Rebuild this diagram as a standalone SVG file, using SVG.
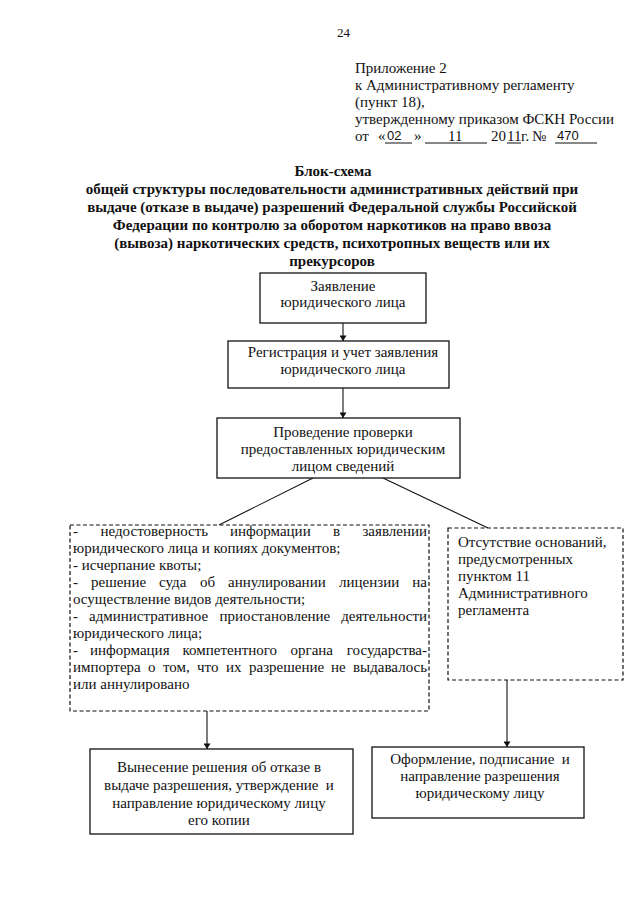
<svg xmlns="http://www.w3.org/2000/svg" width="640" height="905" viewBox="0 0 640 905">
<defs>
<marker id="ah" viewBox="0 0 8 10" refX="8" refY="5" markerWidth="6" markerHeight="7" markerUnits="userSpaceOnUse" orient="auto">
<path d="M0,0 L8,5 L0,10 Z" fill="#111"/>
</marker>
<style>
text{font-family:"Liberation Serif","Times New Roman",serif;font-size:15px;fill:#111}
.b{font-weight:bold}
.c{text-anchor:middle}
.e{text-anchor:end}
.s{font-family:"Liberation Sans",Arial,sans-serif;font-size:13px}
.box{fill:#fff;stroke:#111;stroke-width:1.3}
.dash{fill:#fff;stroke:#111;stroke-width:1.2;stroke-dasharray:4 2.5}
.ln{stroke:#111;stroke-width:1.1;fill:none}
.ul{stroke:#111;stroke-width:1}
</style>
</defs>
<rect width="640" height="905" fill="#fff"/>

<g id="header">
<text x="337" y="37" style="font-size:13px">24</text>
<text x="355" y="73">Приложение 2</text>
<text x="355" y="90">к Административному регламенту</text>
<text x="355" y="107">(пункт 18),</text>
<text x="355" y="124">утвержденному приказом ФСКН России</text>
<text x="355" y="141">от</text>
<text x="378" y="141">«</text>
<text x="387" y="140" class="s">02</text>
<text x="414" y="141">»</text>
<text x="448" y="141">11</text>
<text x="491" y="141">20</text>
<text x="507" y="141">11</text>
<text x="521" y="141">г.</text>
<text x="532" y="141">№</text>
<text x="557" y="140" class="s">470</text>
<line class="ul" x1="385" y1="143" x2="412" y2="143"/>
<line class="ul" x1="425" y1="143" x2="487" y2="143"/>
<line class="ul" x1="507" y1="143" x2="521" y2="143"/>
<line class="ul" x1="555" y1="143" x2="597" y2="143"/>
</g>

<g id="title" class="b">
<text x="333" y="176" class="b c">Блок-схема</text>
<text x="332" y="194" class="b c">общей структуры последовательности административных действий при</text>
<text x="332" y="212" class="b c">выдаче (отказе в выдаче) разрешений Федеральной службы Российской</text>
<text x="332" y="230" class="b c">Федерации по контролю за оборотом наркотиков на право ввоза</text>
<text x="332" y="248" class="b c">(вывоза) наркотических средств, психотропных веществ или их</text>
<text x="332" y="266" class="b c">прекурсоров</text>
</g>

<g id="connectors">
<line class="ln" x1="343" y1="323" x2="343" y2="341" marker-end="url(#ah)"/>
<line class="ln" x1="343" y1="388" x2="343" y2="418" marker-end="url(#ah)"/>
<line class="ln" x1="313" y1="478" x2="219" y2="525"/>
<line class="ln" x1="383" y1="478" x2="488" y2="528"/>
<line class="ln" x1="207" y1="711" x2="207" y2="749" marker-end="url(#ah)"/>
<line class="ln" x1="507" y1="680" x2="507" y2="747" marker-end="url(#ah)"/>
</g>

<g id="n1">
<rect class="box" x="260" y="273" width="166" height="50"/>
<text x="343" y="291" class="c">Заявление</text>
<text x="343" y="307" class="c">юридического лица</text>
</g>

<g id="n2">
<rect class="box" x="228" y="341" width="221" height="47"/>
<text x="343" y="357" class="c">Регистрация и учет заявления</text>
<text x="343" y="374" class="c">юридического лица</text>
</g>

<g id="n3">
<rect class="box" x="217" y="418" width="243" height="60"/>
<text x="343" y="437" class="c">Проведение проверки</text>
<text x="343" y="454" class="c">предоставленных юридическим</text>
<text x="343" y="471" class="c">лицом сведений</text>
</g>

<g id="n4">
<rect class="dash" x="70" y="525" width="359" height="186"/>
<text x="73" y="536">-</text>
<text x="100.5" y="536">недостоверность</text>
<text x="230" y="536">информации</text>
<text x="333" y="536">в</text>
<text x="427" y="536" class="e">заявлении</text>
<text x="73" y="553">юридического лица и копиях документов;</text>
<text x="73" y="570">- исчерпание квоты;</text>
<text x="73" y="587">-</text>
<text x="91" y="587">решение</text>
<text x="159" y="587">суда</text>
<text x="200" y="587">об</text>
<text x="228" y="587">аннулировании</text>
<text x="339" y="587">лицензии</text>
<text x="427" y="587" class="e">на</text>
<text x="73" y="604">осуществление видов деятельности;</text>
<text x="73" y="621">-</text>
<text x="89" y="621">административное</text>
<text x="219.5" y="621">приостановление</text>
<text x="427" y="621" class="e">деятельности</text>
<text x="73" y="638">юридического лица;</text>
<text x="73" y="655">-</text>
<text x="90" y="655">информация</text>
<text x="182.5" y="655">компетентного</text>
<text x="290.5" y="655">органа</text>
<text x="427" y="655" class="e">государства-</text>
<text x="73" y="672">импортера</text>
<text x="148" y="672">о</text>
<text x="163" y="672">том,</text>
<text x="197" y="672">что</text>
<text x="226" y="672">их</text>
<text x="249" y="672">разрешение</text>
<text x="331" y="672">не</text>
<text x="427" y="672" class="e">выдавалось</text>
<text x="73" y="689">или аннулировано</text>
</g>

<g id="n5">
<rect class="dash" x="448" y="528" width="175" height="152"/>
<text x="458" y="547">Отсутствие оснований,</text>
<text x="458" y="564">предусмотренных</text>
<text x="458" y="581">пунктом 11</text>
<text x="458" y="598">Административного</text>
<text x="458" y="615">регламента</text>
</g>

<g id="n6">
<rect class="box" x="90" y="749" width="263" height="85"/>
<text x="219" y="772" class="c">Вынесение решения об отказе в</text>
<text x="219" y="790" class="c" xml:space="preserve">выдаче разрешения, утверждение  и</text>
<text x="219" y="808" class="c">направление юридическому лицу</text>
<text x="219" y="825" class="c">его копии</text>
</g>

<g id="n7">
<rect class="box" x="372" y="747" width="212" height="71"/>
<text x="480" y="764" class="c" xml:space="preserve">Оформление, подписание  и</text>
<text x="480" y="781" class="c">направление разрешения</text>
<text x="480" y="798" class="c">юридическому лицу</text>
</g>
</svg>
